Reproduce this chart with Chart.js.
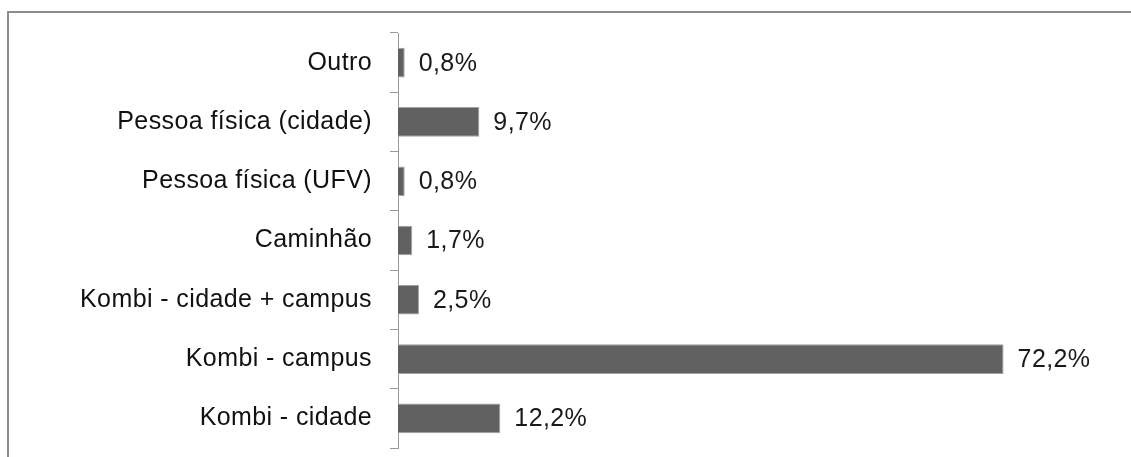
<!DOCTYPE html>
<html>
<head>
<meta charset="utf-8">
<script src="https://cdn.jsdelivr.net/npm/chart.js@4/dist/chart.umd.min.js"></script>
<style>
  html, body { margin: 0; padding: 0; background: #fff; }
  #wrap { position: relative; width: 1131px; height: 457px; }
  #frame { position: absolute; left: 7px; top: 11px; right: -10px; bottom: -10px;
           border-top: 2px solid #8c8c8c; border-left: 2px solid #8c8c8c; }
  canvas { position: absolute; left: 0; top: 0; }
</style>
</head>
<body>
<div id="wrap">
  <div id="frame"></div>
  <canvas id="bar-chart" width="1131" height="457"></canvas>
</div>
<script>
// categorias (de cima para baixo) e percentuais
var categorias = ['Outro', 'Pessoa física (cidade)', 'Pessoa física (UFV)', 'Caminhão',
                  'Kombi - cidade + campus', 'Kombi - campus', 'Kombi - cidade'];
var percentuais = [0.8, 9.7, 0.8, 1.7, 2.5, 72.2, 12.2];

var fonte = 'Liberation Sans, Arial, sans-serif';

// escreve o valor ao lado de cada barra
let rotulos = {
    id: 'rotulos',
    beforeDraw: function (chart) {
        chart.ctx.letterSpacing = '0.4px'; // texto do original é um pouco mais largo
    },
    afterDatasetsDraw: function (chart) {
        let ctx = chart.ctx;
        let meta = chart.getDatasetMeta(0);
        ctx.save();
        ctx.font = '25px ' + fonte;
        ctx.fillStyle = '#1a1a1a';
        ctx.textAlign = 'left';
        ctx.textBaseline = 'middle';
        meta.data.forEach(function (bar, i) {
            let txt = percentuais[i].toFixed(1).replace('.', ',') + '%';
            ctx.fillText(txt, bar.x + 14, bar.y + 1);
        });
        ctx.restore();
    }
};

let ctx = document.getElementById('bar-chart').getContext('2d');
window.barChart = new Chart(ctx, {
    type: 'bar',
    data: {
        labels: categorias,
        datasets: [{
            data: percentuais,
            backgroundColor: '#616161',
            borderColor: '#a0a0a0',
            borderWidth: 1,
            barPercentage: 0.5,
            categoryPercentage: 1.0
        }]
    },
    options: {
        indexAxis: 'y',
        responsive: false,
        animation: false,
        layout: { padding: { top: 33, bottom: 9, left: 0, right: 62 } },
        plugins: {
            legend: { display: false },
            tooltip: { enabled: false }
        },
        scales: {
            x: {
                display: false,
                min: 0,
                max: 80
            },
            y: {
                afterFit: function (scale) {
                    scale.width = 398;
                    scale.paddingTop = 0;   // senão o padding dos ticks encolhe a área
                    scale.paddingBottom = 0;
                },
                border: { display: true, color: '#9a9a9a', width: 1 },
                grid: {
                    offset: true,
                    drawOnChartArea: false,
                    drawTicks: true,
                    tickLength: 8,
                    color: '#9a9a9a'
                },
                ticks: {
                    padding: 18,
                    color: '#111',
                    font: { family: fonte, size: 25 }
                }
            }
        }
    },
    plugins: [rotulos]
});
</script>
</body>
</html>
